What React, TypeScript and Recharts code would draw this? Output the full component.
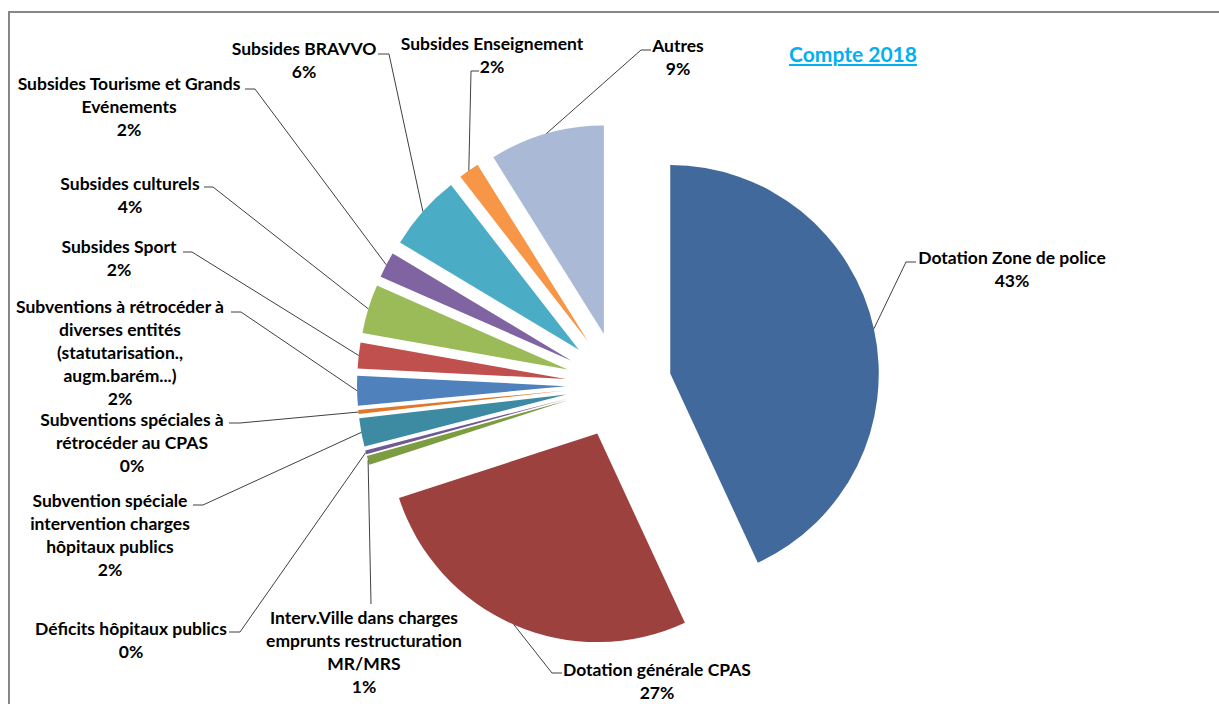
import React from "react";
import { PieChart, Pie, Cell, Sector } from "recharts";

// budget shares (%), clockwise from 12 o'clock
const categories = [
  "Dotation Zone de police",
  "Dotation générale CPAS",
  "Interv.Ville dans charges emprunts restructuration MR/MRS",
  "Déficits hôpitaux publics",
  "Subvention spéciale intervention charges hôpitaux publics",
  "Subventions spéciales à rétrocéder au CPAS",
  "Subventions à rétrocéder à diverses entités (statutarisation., augm.barém...)",
  "Subsides Sport",
  "Subsides culturels",
  "Subsides Tourisme et Grands Evénements",
  "Subsides BRAVVO",
  "Subsides Enseignement",
  "Autres",
];
const shares = [43.1, 26.9, 0.7, 0.3, 2.2, 0.3, 2.3, 2.0, 3.8, 2.0, 5.9, 1.6, 8.9];
const sliceColors = [
  "#41699b", "#9d413e", "#7c9c42", "#6f5a92", "#3d8ba3", "#e0782a", "#4f81bd",
  "#c0504d", "#9bbb59", "#8064a2", "#4bacc6", "#f79646", "#aab9d6",
];

const W = 1219;
const H = 704;
const CX = 618.5;
const CY = 385;
const R = 208.5;
const EXPLODE = 53;
const RAD = Math.PI / 180;
const FONT = "Lato, 'Open Sans', sans-serif";
const LINE_H = 23.2;

// where each data label sits, words per line, and its leader elbow / stub end
type LabelSpot = { x: number; y: number; words: number[]; elbow: [number, number]; stub?: [number, number] };
const labelSpots: LabelSpot[] = [
  { x: 1012, y: 257, words: [4], elbow: [906, 262], stub: [916, 262] },
  { x: 657, y: 669, words: [3], elbow: [552, 673], stub: [562, 673] },
  { x: 364, y: 617, words: [3, 2, 1], elbow: [371, 604] },
  { x: 131, y: 628, words: [3], elbow: [240, 632], stub: [229, 632] },
  { x: 110, y: 500, words: [2, 2, 2], elbow: [203, 505], stub: [193, 505] },
  { x: 132, y: 419.5, words: [3, 3], elbow: [240, 423], stub: [229, 423] },
  { x: 120, y: 306, words: [4, 2, 1, 1], elbow: [241, 312], stub: [231, 312] },
  { x: 119, y: 246, words: [2], elbow: [192, 252], stub: [183, 252] },
  { x: 130, y: 183, words: [2], elbow: [213, 187], stub: [204, 187] },
  { x: 129, y: 83, words: [4, 1], elbow: [255, 89], stub: [245, 89] },
  { x: 304, y: 48, words: [2], elbow: [389, 54], stub: [378, 54] },
  { x: 492, y: 43, words: [2], elbow: [471, 71], stub: [479, 71] },
  { x: 678, y: 45, words: [1], elbow: [641, 50], stub: [651, 50] },
];

const data = categories.map((name, i) => ({ name, value: shares[i] }));

function splitWords(name: string, counts: number[]) {
  const words = name.split(" ");
  const out: string[] = [];
  let k = 0;
  counts.forEach((n) => {
    out.push(words.slice(k, k + n).join(" "));
    k += n;
  });
  return out;
}

function explodeOffset(midAngle: number): [number, number] {
  return [EXPLODE * Math.cos(-midAngle * RAD), EXPLODE * Math.sin(-midAngle * RAD)];
}

function ExplodedSlice(props: any) {
  const [dx, dy] = explodeOffset(props.midAngle);
  return <Sector {...props} cx={props.cx + dx} cy={props.cy + dy} />;
}

function renderLabel(props: any) {
  const { cx, cy, midAngle, outerRadius, percent, index } = props;
  const spot = labelSpots[index];
  const [dx, dy] = explodeOffset(midAngle);
  const ax = cx + dx + outerRadius * Math.cos(-midAngle * RAD);
  const ay = cy + dy + outerRadius * Math.sin(-midAngle * RAD);
  const pts = [[ax, ay], spot.elbow, ...(spot.stub ? [spot.stub] : [])];
  const lines = [...splitWords(categories[index], spot.words), `${Math.round(percent * 100)}%`];
  return (
    <g key={`lbl-${index}`}>
      <polyline points={pts.map((p) => p.join(",")).join(" ")} fill="none" stroke="#404040" strokeWidth={1} />
      {lines.map((t, k) => (
        <text
          key={k}
          x={spot.x}
          y={spot.y + k * LINE_H}
          textAnchor="middle"
          dominantBaseline="central"
          fontFamily={FONT}
          fontSize={17.5}
          fontWeight={700}
          fill="#000"
        >
          {t}
        </text>
      ))}
    </g>
  );
}

export default function App() {
  return (
    <div style={{ position: "absolute", left: 0, top: 0, width: W, height: H, background: "#fff" }}>
      <div
        style={{
          position: "absolute",
          left: 8,
          top: 11,
          width: W - 8,
          height: H - 11,
          borderTop: "2px solid #868686",
          borderLeft: "2px solid #868686",
          boxSizing: "border-box",
        }}
      />
      <div
        style={{
          position: "absolute",
          left: 853,
          top: 41,
          transform: "translateX(-50%)",
          fontFamily: FONT,
          fontSize: 21,
          lineHeight: "26px",
          fontWeight: 700,
          color: "#00b0f0",
          textDecoration: "underline",
          whiteSpace: "nowrap",
        }}
      >
        Compte 2018
      </div>
      <div style={{ position: "absolute", left: 0, top: 0 }}>
        <PieChart width={W} height={H} margin={{ top: 0, right: 0, bottom: 0, left: 0 }}>
          <Pie
            data={data}
            dataKey="value"
            nameKey="name"
            cx={CX}
            cy={CY}
            innerRadius={0}
            outerRadius={R}
            startAngle={90}
            endAngle={-270}
            stroke="none"
            isAnimationActive={false}
            shape={ExplodedSlice}
            activeShape={ExplodedSlice}
            inactiveShape={ExplodedSlice}
            label={renderLabel}
            labelLine={false}
          >
            {data.map((d, i) => (
              <Cell key={d.name} fill={sliceColors[i]} />
            ))}
          </Pie>
        </PieChart>
      </div>
    </div>
  );
}
